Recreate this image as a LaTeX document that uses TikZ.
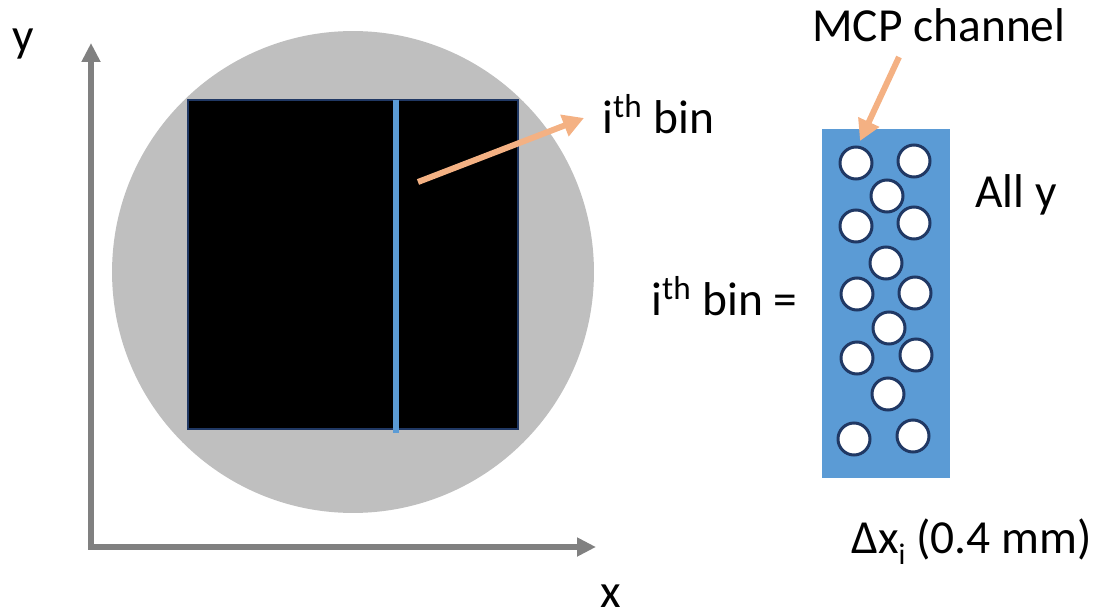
\documentclass[tikz,border=0pt]{standalone}
\usepackage{fontspec}
\setmainfont{Carlito}
\usetikzlibrary{arrows.meta,positioning}
\definecolor{axisgray}{RGB}{128,128,128}
\definecolor{diskgray}{RGB}{191,191,191}
\definecolor{binblue}{RGB}{91,155,213}
\definecolor{pointorange}{RGB}{244,177,131}
\definecolor{edgeblue}{RGB}{32,56,100}

\begin{document}
\begin{tikzpicture}[x=0.02cm, y=-0.02cm,
  axis/.style={draw=axisgray, line width=0.12cm, {Triangle[length=0.38cm, width=0.36cm]}-{Triangle[length=0.38cm, width=0.36cm]}},
  pointer/.style={draw=pointorange, line width=0.12cm, -{Triangle[length=0.42cm, width=0.44cm]}},
  hole/.style={circle, draw=edgeblue, fill=white, line width=0.06cm, minimum size=0.64cm, inner sep=0},
  lbl/.style={anchor=base west, inner sep=0, font=\fontsize{27}{32}\selectfont}]
\useasboundingbox (0,0) rectangle (1096,615);
% detector face
\node[circle, fill=diskgray, minimum size=9.64cm, inner sep=0] (disk) at (353,272) {};
\node[draw=edgeblue, line width=0.05cm, fill=black, minimum width=6.6cm, minimum height=6.58cm, inner sep=0] (det) at (353,264.5) {};
\coordinate (bintop) at (396,100);
\coordinate (binbot) at (396,433);
\draw[binblue, line width=0.12cm] (bintop) -- (binbot);
% axes
\coordinate (ytip) at (91,43);
\coordinate (origin) at (91,547);
\coordinate (xtip) at (596,547);
\draw[axis] (ytip) -- (origin) -- (xtip);
\node[lbl] (ylab) at (12,52) {y};
\node[lbl] (xlab) at (600,607) {x};
% bin pointer
\coordinate (binpt) at (418,182);
\node[lbl] (binlab) at (602,133) {i\textsuperscript{th} bin};
\coordinate (binend) at (584,118);
\draw[pointer] (binpt) -- (binend);
% one bin, seen along y
\node[fill=binblue, minimum width=2.56cm, minimum height=7cm, inner sep=0] (strip) at (886,303.5) {};
\foreach \n/\cx/\cy in {1/856/163, 2/914/161, 3/887/196, 4/856/226, 5/914/223,
  6/886/263, 7/857/294, 8/915/293, 9/889/328, 10/857/358, 11/916/355,
  12/888/394, 13/854/439, 14/913/436}
  \node[hole] (h\n) at (\cx,\cy) {};
\node[lbl] (mcplab) at (812,42) {MCP channel};
\coordinate (mcptail) at (899,57);
\coordinate (mcptip) at (860,141);
\draw[pointer] (mcptail) -- (mcptip);
\node[lbl] (binis) at (651,315) {i\textsuperscript{th} bin =};
\node[lbl] (ally) at (975,208) {All y};
\node[lbl] (width) at (851,553) {Δx\raisebox{-0.25em}{\fontsize{17}{20}\selectfont i} (0.4 mm)};
\end{tikzpicture}
\end{document}
